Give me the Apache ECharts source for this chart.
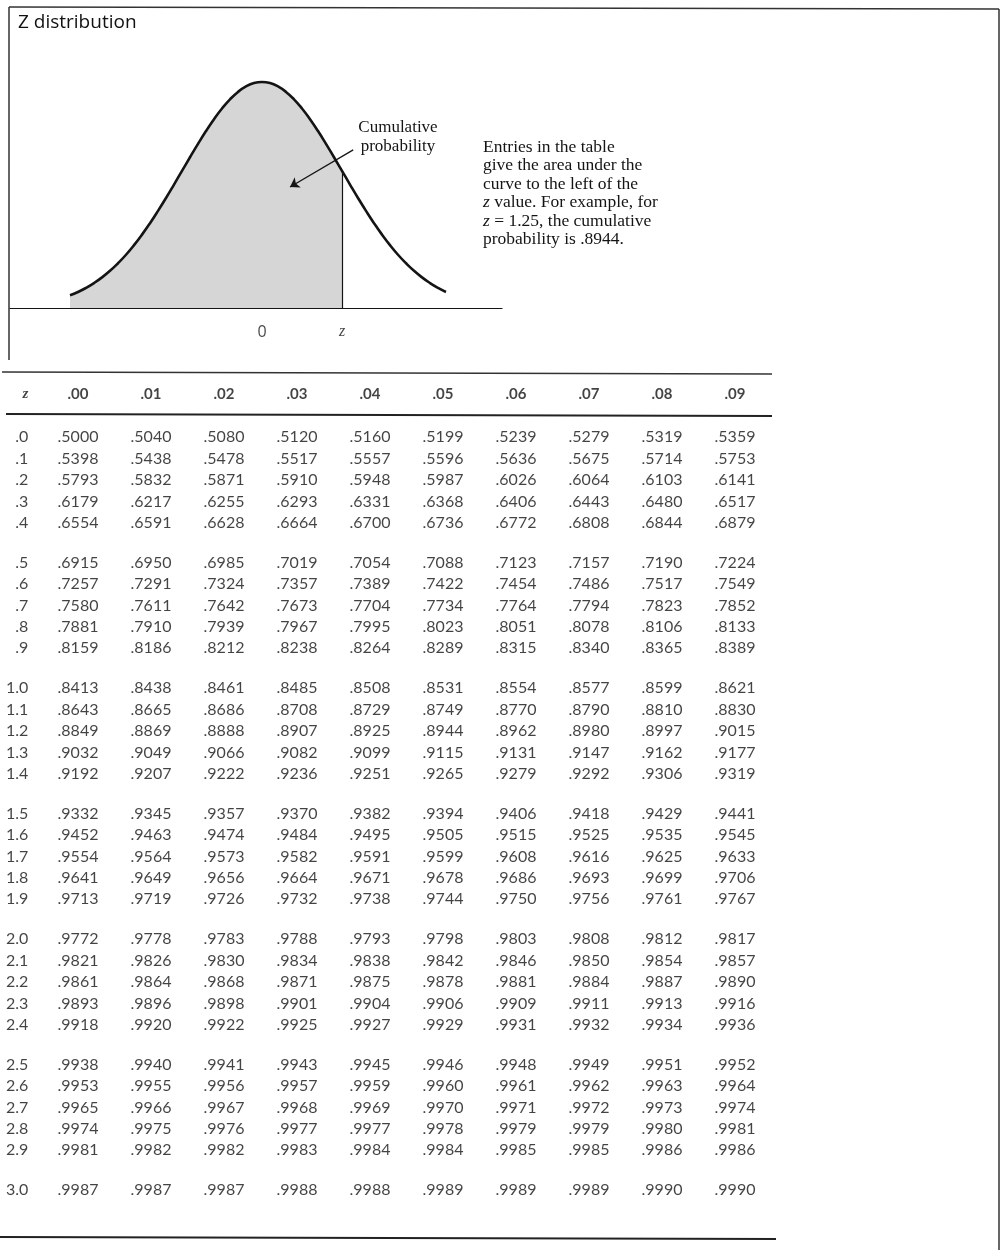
<!DOCTYPE html>
<html>
<head>
<meta charset="utf-8">
<title>Z distribution</title>
<script src="https://cdn.jsdelivr.net/npm/echarts@6/dist/echarts.min.js"></script>
<style>
  html, body { margin: 0; padding: 0; background: #fff; }
  #main { width: 1002px; height: 1250px; }
</style>
</head>
<body>
<div id="main"></div>
<script>
// column headers (second decimal of z)
var colLabels = ['.00', '.01', '.02', '.03', '.04', '.05', '.06', '.07', '.08', '.09'];

// row labels (z to one decimal)
var rowLabels = ['.0', '.1', '.2', '.3', '.4', '.5', '.6', '.7', '.8', '.9',
    '1.0', '1.1', '1.2', '1.3', '1.4', '1.5', '1.6', '1.7', '1.8', '1.9',
    '2.0', '2.1', '2.2', '2.3', '2.4', '2.5', '2.6', '2.7', '2.8', '2.9', '3.0'];

// cumulative probabilities, one array per row
var cumProb = [
    [.5000, .5040, .5080, .5120, .5160, .5199, .5239, .5279, .5319, .5359],
    [.5398, .5438, .5478, .5517, .5557, .5596, .5636, .5675, .5714, .5753],
    [.5793, .5832, .5871, .5910, .5948, .5987, .6026, .6064, .6103, .6141],
    [.6179, .6217, .6255, .6293, .6331, .6368, .6406, .6443, .6480, .6517],
    [.6554, .6591, .6628, .6664, .6700, .6736, .6772, .6808, .6844, .6879],
    [.6915, .6950, .6985, .7019, .7054, .7088, .7123, .7157, .7190, .7224],
    [.7257, .7291, .7324, .7357, .7389, .7422, .7454, .7486, .7517, .7549],
    [.7580, .7611, .7642, .7673, .7704, .7734, .7764, .7794, .7823, .7852],
    [.7881, .7910, .7939, .7967, .7995, .8023, .8051, .8078, .8106, .8133],
    [.8159, .8186, .8212, .8238, .8264, .8289, .8315, .8340, .8365, .8389],
    [.8413, .8438, .8461, .8485, .8508, .8531, .8554, .8577, .8599, .8621],
    [.8643, .8665, .8686, .8708, .8729, .8749, .8770, .8790, .8810, .8830],
    [.8849, .8869, .8888, .8907, .8925, .8944, .8962, .8980, .8997, .9015],
    [.9032, .9049, .9066, .9082, .9099, .9115, .9131, .9147, .9162, .9177],
    [.9192, .9207, .9222, .9236, .9251, .9265, .9279, .9292, .9306, .9319],
    [.9332, .9345, .9357, .9370, .9382, .9394, .9406, .9418, .9429, .9441],
    [.9452, .9463, .9474, .9484, .9495, .9505, .9515, .9525, .9535, .9545],
    [.9554, .9564, .9573, .9582, .9591, .9599, .9608, .9616, .9625, .9633],
    [.9641, .9649, .9656, .9664, .9671, .9678, .9686, .9693, .9699, .9706],
    [.9713, .9719, .9726, .9732, .9738, .9744, .9750, .9756, .9761, .9767],
    [.9772, .9778, .9783, .9788, .9793, .9798, .9803, .9808, .9812, .9817],
    [.9821, .9826, .9830, .9834, .9838, .9842, .9846, .9850, .9854, .9857],
    [.9861, .9864, .9868, .9871, .9875, .9878, .9881, .9884, .9887, .9890],
    [.9893, .9896, .9898, .9901, .9904, .9906, .9909, .9911, .9913, .9916],
    [.9918, .9920, .9922, .9925, .9927, .9929, .9931, .9932, .9934, .9936],
    [.9938, .9940, .9941, .9943, .9945, .9946, .9948, .9949, .9951, .9952],
    [.9953, .9955, .9956, .9957, .9959, .9960, .9961, .9962, .9963, .9964],
    [.9965, .9966, .9967, .9968, .9969, .9970, .9971, .9972, .9973, .9974],
    [.9974, .9975, .9976, .9977, .9977, .9978, .9979, .9979, .9980, .9981],
    [.9981, .9982, .9982, .9983, .9984, .9984, .9985, .9985, .9986, .9986],
    [.9987, .9987, .9987, .9988, .9988, .9989, .9989, .9989, .9990, .9990]
];

// bell curve: z from -2.4 to 2.3, heights
var curveZ = [-2.4, -2.3, -2.2, -2.1, -2.0, -1.9, -1.8, -1.7, -1.6, -1.5, -1.4, -1.3, -1.2, -1.1,
    -1.0, -0.9, -0.8, -0.7, -0.6, -0.5, -0.4, -0.3, -0.2, -0.1, 0,
    0.1, 0.2, 0.3, 0.4, 0.5, 0.6, 0.7, 0.8, 0.9, 1.0, 1.1, 1.2, 1.3, 1.4,
    1.5, 1.6, 1.7, 1.8, 1.9, 2.0, 2.1, 2.2, 2.3];
var curveDensity = [0.0224, 0.0283, 0.0355, 0.0440, 0.0540, 0.0656, 0.0790, 0.0940, 0.1109, 0.1295,
    0.1497, 0.1714, 0.1942, 0.2179, 0.2420, 0.2661, 0.2897, 0.3123, 0.3332, 0.3521,
    0.3683, 0.3814, 0.3910, 0.3970, 0.3989,
    0.3970, 0.3910, 0.3814, 0.3683, 0.3521, 0.3332, 0.3123, 0.2897, 0.2661, 0.2420,
    0.2179, 0.1942, 0.1714, 0.1497, 0.1295, 0.1109, 0.0940, 0.0790, 0.0656, 0.0540,
    0.0440, 0.0355, 0.0283];
var zMark = 1.0;
var zMarkDensity = 0.2420;

var ink = '#141414';
var tableFont = 'Lato';

// curve data
var curveData = [];
var shadeData = [];
for (var i = 0; i < curveZ.length; i++) {
    curveData.push([curveZ[i], curveDensity[i]]);
    if (curveZ[i] <= zMark) shadeData.push([curveZ[i], curveDensity[i]]);
}

// table rows are grouped by five with a gap
var groupGap = 0.85;
function rowPos(r) {
    return r + Math.floor(r / 5) * groupGap;
}
var lastPos = rowPos(rowLabels.length - 1);
var zColX = -0.72;
var headerY = -2.0;

var cellData = [];
for (var r = 0; r < cumProb.length; r++) {
    for (var c = 0; c < cumProb[r].length; c++) {
        cellData.push({
            value: [c, rowPos(r)],
            name: cumProb[r][c].toFixed(4).replace(/^0/, '')
        });
    }
}
var rowLabelData = [];
for (var r = 0; r < rowLabels.length; r++) {
    rowLabelData.push({ value: [zColX + 0.04, rowPos(r)], name: rowLabels[r] });
}
var headerData = [{
    value: [zColX, headerY], name: 'z',
    label: { fontFamily: 'Liberation Serif', fontStyle: 'italic', fontWeight: 'bold', fontSize: 15 }
}];
for (var c = 0; c < colLabels.length; c++) {
    headerData.push({ value: [c, headerY], name: colLabels[c] });
}

var chart = echarts.init(document.getElementById('main'));

var option = {
    backgroundColor: '#fff',
    animation: false,
    grid: [
        { left: 10, top: 80, width: 492, height: 228 },
        { left: 78, top: 437, width: 657, height: 753 }
    ],
    xAxis: [
        {
            gridIndex: 0, type: 'value', min: -3.15, max: 3.0,
            axisLine: { show: true, onZero: false, lineStyle: { color: ink, width: 1.2 } },
            axisTick: { show: false }, axisLabel: { show: false }, splitLine: { show: false }
        },
        {
            gridIndex: 1, type: 'value', min: 0, max: 9, show: false
        }
    ],
    yAxis: [
        { gridIndex: 0, type: 'value', min: 0, max: 0.4024, show: false },
        { gridIndex: 1, type: 'value', min: 0, max: lastPos, inverse: true, show: false }
    ],
    series: [
        {
            name: 'shade', type: 'line', xAxisIndex: 0, yAxisIndex: 0,
            data: shadeData, smooth: true, symbol: 'none',
            lineStyle: { width: 0 },
            areaStyle: { color: '#d6d6d6', opacity: 1 },
            markLine: {
                silent: true, symbol: 'none', label: { show: false },
                lineStyle: { color: ink, width: 1.2, type: 'solid' },
                data: [[{ coord: [zMark, 0] }, { coord: [zMark, zMarkDensity] }]]
            },
            z: 1
        },
        {
            name: 'curve', type: 'line', xAxisIndex: 0, yAxisIndex: 0,
            data: curveData, smooth: true, symbol: 'none',
            lineStyle: { color: ink, width: 2.6 },
            markLine: {
                silent: true, symbol: ['none', 'arrow'], symbolSize: 9,
                label: { show: false },
                lineStyle: { color: ink, width: 1.3, type: 'solid' },
                data: [[{ coord: [1.14, 0.279] }, { coord: [0.35, 0.2136] }]]
            },
            z: 3
        },
        {
            name: 'axisMarks', type: 'scatter', xAxisIndex: 0, yAxisIndex: 0,
            symbolSize: 0, clip: false,
            data: [
                { value: [0, 0], name: '0', label: { fontFamily: 'Open Sans', fontSize: 16 } },
                { value: [zMark, 0], name: 'z', label: { fontFamily: 'Liberation Serif', fontStyle: 'italic', fontSize: 16 } }
            ],
            label: { show: true, position: 'bottom', distance: 16, color: ink, formatter: '{b}' }
        },
        {
            name: 'header', type: 'scatter', xAxisIndex: 1, yAxisIndex: 1,
            symbolSize: 0, clip: false, data: headerData,
            label: {
                show: true, position: 'inside', formatter: '{b}', color: ink,
                fontFamily: tableFont, fontWeight: 'bold', fontSize: 15
            }
        },
        {
            name: 'rows', type: 'scatter', xAxisIndex: 1, yAxisIndex: 1,
            symbolSize: 0, clip: false, data: rowLabelData,
            label: {
                show: true, position: 'inside', align: 'right', formatter: '{b}', color: ink,
                fontFamily: tableFont, fontSize: 16
            }
        },
        {
            name: 'cells', type: 'scatter', xAxisIndex: 1, yAxisIndex: 1,
            symbolSize: 0, clip: false, data: cellData,
            label: {
                show: true, position: 'inside', formatter: '{b}', color: ink,
                fontFamily: tableFont, fontSize: 16
            }
        }
    ],
    graphic: [
        // frame
        { type: 'line', shape: { x1: 9, y1: 7, x2: 999, y2: 9 }, style: { stroke: '#333', lineWidth: 1.5 } },
        { type: 'line', shape: { x1: 9, y1: 7, x2: 9, y2: 360 }, style: { stroke: '#333', lineWidth: 1.5 } },
        { type: 'line', shape: { x1: 999, y1: 9, x2: 999, y2: 1250 }, style: { stroke: '#333', lineWidth: 1.5 } },
        // table rules
        { type: 'line', shape: { x1: 2, y1: 372, x2: 772, y2: 374 }, style: { stroke: '#333', lineWidth: 1.5 } },
        { type: 'line', shape: { x1: 6, y1: 414, x2: 772, y2: 416 }, style: { stroke: '#222', lineWidth: 2 } },
        { type: 'line', shape: { x1: 0, y1: 1237, x2: 776, y2: 1239 }, style: { stroke: '#222', lineWidth: 2 } },
        // title
        {
            type: 'text', left: 18, top: 13,
            style: { text: 'Z distribution', font: '19px "Open Sans"', fill: '#111' }
        },
        // curve annotation
        {
            type: 'text', x: 398, y: 118,
            style: {
                text: 'Cumulative\nprobability', font: '17px "Liberation Serif"',
                fill: ink, align: 'center', lineHeight: 19
            }
        },
        {
            type: 'text', x: 483, y: 138,
            style: {
                text: 'Entries in the table\ngive the area under the\ncurve to the left of the\n{i|z} value. For example, for\n{i|z} = 1.25, the cumulative\nprobability is .8944.',
                font: '17.5px "Liberation Serif"', fill: ink, lineHeight: 18.5,
                rich: { i: { fontFamily: 'Liberation Serif', fontStyle: 'italic', fontSize: 17.5, lineHeight: 18.5 } }
            }
        }
    ]
};

chart.setOption(option);
</script>
</body>
</html>
